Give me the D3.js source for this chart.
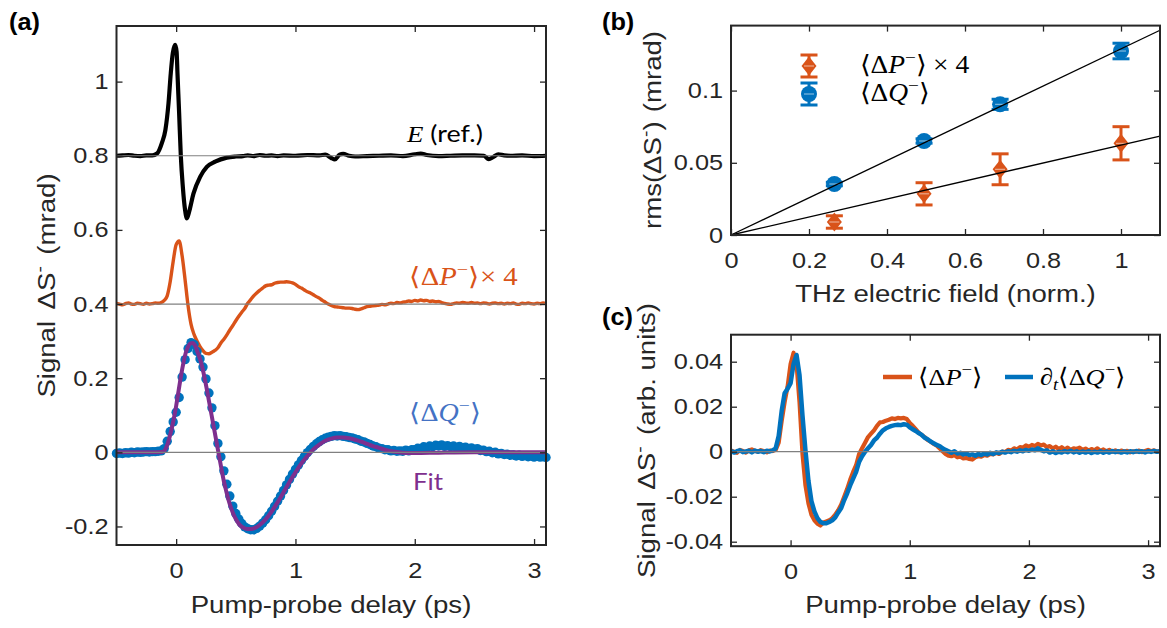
<!DOCTYPE html>
<html><head><meta charset="utf-8">
<script src="https://cdn.jsdelivr.net/npm/d3@7/dist/d3.min.js"></script>
<style>
body{margin:0;background:#fff;}
svg{display:block;}
text{font-family:"Liberation Sans",Arial,sans-serif;fill:#262626;}
</style></head><body>
<svg id="fig" width="1167" height="628"></svg>
<script>
// ---------------- DATA ----------------
// common time grid for the sampled traces (ps)
const tStart = -0.5, tStep = 0.025;
// panel (a): E reference (offset 0.8), [delay, value]
const eRef = [[-0.5,0],[-0.45,0.001],[-0.4,0.002],[-0.35,0],[-0.3,-0.001],[-0.25,0.001],[-0.2,0.001],[-0.16,0.006],[-0.12,0.034],[-0.09,0.07],[-0.064,0.142],[-0.045,0.223],[-0.028,0.277],[-0.008,0.299],[0.004,0.28],[0.011,0.223],[0.025,0.115],[0.039,0.0],[0.056,-0.084],[0.075,-0.147],[0.09,-0.169],[0.109,-0.151],[0.145,-0.102],[0.201,-0.057],[0.257,-0.03],[0.327,-0.016],[0.425,-0.005],[0.5,-0.002],[0.56,-0.001],[0.6,0.001],[0.65,-0.001],[0.7,0.002],[0.75,0.000],[0.8,0.001],[0.85,-0.001],[0.9,0.001],[1.0,0.000],[1.1,0.002],[1.2,0.001],[1.25,0.003],[1.3,-0.006],[1.33,-0.010],[1.37,0.003],[1.4,0.005],[1.45,0.000],[1.5,-0.002],[1.6,-0.001],[1.7,0.000],[1.8,0.001],[1.9,-0.001],[2.0,0.004],[2.05,0.006],[2.1,0.002],[2.2,-0.001],[2.3,0.000],[2.4,0.001],[2.5,0.001],[2.58,0.000],[2.62,-0.009],[2.66,-0.003],[2.7,0.004],[2.75,0.001],[2.8,0.000],[2.9,0.001],[3.0,-0.001],[3.1,0.000]];
const offsets = {E:0.8, P:0.4, Q:0};
// panel (a): <dP-> x 4 (offset 0.4), one value per tStep
const pA = [
 0.002,0.000,-0.002,0.001,0.003,0.000,-0.001,0.002,      // -0.5
 0.001,-0.001,0.002,0.000,0.001,0.003,0.002,0.004,       // -0.3
 0.010,0.022,0.060,0.115,0.160,0.170,0.130,0.065,        // -0.1
 -0.005,-0.055,-0.082,-0.100,-0.115,-0.126,-0.133,-0.134,// 0.1
 -0.130,-0.125,-0.118,-0.105,-0.095,-0.083,-0.070,-0.058,// 0.3
 -0.045,-0.033,-0.022,-0.012,0.002,0.012,0.022,0.030,    // 0.5
 0.037,0.043,0.049,0.051,0.052,0.056,0.058,0.059,        // 0.7
 0.059,0.060,0.059,0.057,0.053,0.047,0.043,0.038,        // 0.9
 0.033,0.030,0.025,0.020,0.016,0.010,0.005,0.000,        // 1.1
 -0.004,-0.007,-0.008,-0.009,-0.010,-0.011,-0.011,-0.012,// 1.3
 -0.014,-0.015,-0.013,-0.010,-0.007,-0.006,-0.005,-0.004,// 1.5
 -0.003,-0.001,-0.002,0.000,0.002,0.001,0.004,0.003,     // 1.7
 0.005,0.006,0.008,0.007,0.010,0.008,0.011,0.009,        // 1.9
 0.010,0.007,0.008,0.006,0.007,0.004,0.002,0.000,        // 2.1
 -0.001,0.001,0.003,0.002,0.004,0.003,0.002,0.004,       // 2.3
 0.002,0.003,0.001,0.003,0.002,0.000,0.002,0.003,        // 2.5
 0.001,0.002,0.000,0.002,0.001,0.003,0.000,-0.001,       // 2.7
 0.002,0.001,0.003,0.001,0.000,0.002,0.001,0.003,        // 2.9
 0.001];                                                 // 3.1
// panel (a): <dQ-> markers, one value per tStep
const qA = [
 -0.003,-0.002,-0.003,-0.001,-0.002,0.000,-0.001,0.001,  // -0.5
 0.000,0.001,0.002,0.001,0.002,0.002,0.003,0.004,        // -0.3
 0.010,0.030,0.056,0.082,0.108,0.148,0.203,0.250,        // -0.1
 0.280,0.296,0.291,0.272,0.252,0.230,0.198,0.160,        // 0.1
 0.120,0.072,0.024,-0.012,-0.050,-0.086,-0.118,-0.145,   // 0.3
 -0.165,-0.180,-0.192,-0.201,-0.206,-0.209,-0.209,-0.205,// 0.5
 -0.199,-0.191,-0.182,-0.171,-0.159,-0.146,-0.132,-0.118,// 0.7
 -0.103,-0.088,-0.073,-0.059,-0.046,-0.034,-0.022,-0.011,// 0.9
 -0.001,0.008,0.016,0.023,0.029,0.034,0.038,0.041,       // 1.1
 0.043,0.045,0.044,0.045,0.043,0.042,0.040,0.039,        // 1.3
 0.036,0.034,0.030,0.028,0.024,0.021,0.017,0.015,        // 1.5
 0.011,0.010,0.007,0.007,0.004,0.005,0.003,0.004,        // 1.7
 0.003,0.006,0.004,0.007,0.007,0.011,0.010,0.015,        // 1.9
 0.013,0.017,0.015,0.019,0.017,0.020,0.016,0.018,        // 2.1
 0.015,0.017,0.013,0.016,0.012,0.014,0.010,0.012,        // 2.3
 0.008,0.010,0.005,0.006,0.002,0.003,-0.001,0.000,       // 2.5
 -0.004,-0.003,-0.006,-0.005,-0.008,-0.007,-0.010,-0.008,// 2.7
 -0.011,-0.009,-0.012,-0.010,-0.013,-0.011,-0.013,-0.012,// 2.9
 -0.014];                                                // 3.1
// panel (a): fit, [delay, value]
const qFit = [[-0.5,0],[-0.2,0],[-0.12,0.001],[-0.1,0.004],[-0.08,0.015],[-0.06,0.035],[-0.04,0.06],[-0.02,0.09],[0,0.125],[0.02,0.165],[0.04,0.205],[0.06,0.24],[0.08,0.268],[0.1,0.285],[0.12,0.294],[0.14,0.295],[0.16,0.287],[0.18,0.27],[0.2,0.252],[0.22,0.228],[0.24,0.198],[0.26,0.165],[0.28,0.13],[0.3,0.095],[0.32,0.06],[0.34,0.025],[0.36,-0.01],[0.38,-0.045],[0.4,-0.078],[0.42,-0.105],[0.44,-0.13],[0.46,-0.15],[0.48,-0.167],[0.5,-0.18],[0.53,-0.195],[0.56,-0.203],[0.6,-0.207],[0.63,-0.207],[0.66,-0.204],[0.7,-0.196],[0.75,-0.181],[0.8,-0.16],[0.85,-0.135],[0.9,-0.108],[0.95,-0.08],[1.0,-0.054],[1.05,-0.03],[1.1,-0.01],[1.15,0.008],[1.2,0.021],[1.25,0.031],[1.3,0.037],[1.35,0.04],[1.4,0.04],[1.45,0.038],[1.5,0.034],[1.55,0.029],[1.6,0.023],[1.65,0.017],[1.7,0.012],[1.75,0.007],[1.8,0.003],[1.85,0.001],[1.9,-0.001],[2.0,-0.002],[2.2,-0.001],[2.5,0],[3.1,0]];
// panel (b)
const field = [0.265, 0.495, 0.69, 1.0];
const rmsQ = [0.0353, 0.0651, 0.0905, 0.1274];
const errQ = [0.0012, 0.0015, 0.0035, 0.0054];
const rmsP = [0.0090, 0.0285, 0.0455, 0.0635];
const errP = [0.0043, 0.0077, 0.0107, 0.0115];
const slopeQ = 0.1289, slopeP = 0.0623;
// panel (c): <dP-> and d_t<dQ->, one value per tStep
const pC = [
 0.0005,0.0000,-0.0005,0.0008,0.0003,-0.0004,0.0006,0.0010,   // -0.5
 0.0004,0.0000,0.0007,0.0002,-0.0003,0.0005,0.0003,0.0008,    // -0.3
 0.0040,0.0135,0.0220,0.0290,0.0390,0.0440,0.0390,0.0220,     // -0.1
 -0.0010,-0.0150,-0.0230,-0.0280,-0.0305,-0.0320,-0.0328,-0.0315, // 0.1
 -0.0310,-0.0305,-0.0295,-0.0280,-0.0260,-0.0235,-0.0200,-0.0165, // 0.3
 -0.0125,-0.0090,-0.0060,-0.0010,0.0015,0.0040,0.0065,0.0080, // 0.5
 0.0095,0.0115,0.0130,0.0132,0.0138,0.0142,0.0148,0.0145,     // 0.7
 0.0150,0.0148,0.0150,0.0145,0.0128,0.0115,0.0100,0.0085,     // 0.9
 0.0075,0.0065,0.0052,0.0045,0.0035,0.0028,0.0015,0.0002,     // 1.1
 -0.0010,-0.0018,-0.0020,-0.0015,-0.0025,-0.0022,-0.0030,-0.0028, // 1.3
 -0.0032,-0.0035,-0.0025,-0.0020,-0.0022,-0.0015,-0.0018,-0.0010, // 1.5
 -0.0012,-0.0005,-0.0010,0.0000,-0.0002,0.0008,0.0005,0.0015, // 1.7
 0.0010,0.0020,0.0018,0.0028,0.0022,0.0030,0.0025,0.0035,     // 1.9
 0.0028,0.0032,0.0020,0.0025,0.0015,0.0022,0.0012,0.0020,     // 2.1
 0.0010,0.0018,0.0008,0.0015,0.0012,0.0018,0.0008,0.0014,     // 2.3
 0.0005,0.0012,0.0006,0.0015,0.0004,0.0010,0.0002,0.0008,     // 2.5
 0.0000,0.0006,-0.0002,0.0005,0.0000,0.0004,-0.0003,0.0002,   // 2.7
 0.0000,0.0005,-0.0002,0.0003,0.0008,0.0002,0.0006,0.0000,    // 2.9
 0.0003];                                                      // 3.1
const qC = [
 0.0003,-0.0004,0.0002,0.0006,-0.0002,0.0001,0.0004,-0.0003,  // -0.5
 0.0005,0.0000,0.0003,-0.0002,0.0004,0.0001,0.0006,0.0015,    // -0.3
 0.0070,0.0180,0.0260,0.0280,0.0305,0.0390,0.0430,0.0340,     // -0.1
 0.0160,0.0005,-0.0130,-0.0220,-0.0265,-0.0295,-0.0312,-0.0318, // 0.1
 -0.0318,-0.0312,-0.0305,-0.0292,-0.0270,-0.0250,-0.0215,-0.0185, // 0.3
 -0.0150,-0.0120,-0.0090,-0.0045,-0.0020,0.0000,0.0015,0.0030, // 0.5
 0.0050,0.0062,0.0080,0.0095,0.0104,0.0110,0.0115,0.0118,     // 0.7
 0.0120,0.0118,0.0122,0.0120,0.0108,0.0100,0.0092,0.0083,     // 0.9
 0.0075,0.0062,0.0055,0.0045,0.0038,0.0030,0.0025,0.0015,     // 1.1
 0.0008,0.0002,-0.0005,0.0002,-0.0008,-0.0005,-0.0012,-0.0008, // 1.3
 -0.0015,-0.0012,-0.0018,-0.0010,-0.0015,-0.0008,-0.0012,-0.0005, // 1.5
 -0.0010,-0.0003,-0.0006,0.0000,-0.0004,0.0002,-0.0002,0.0004, // 1.7
 0.0000,0.0006,0.0002,0.0008,0.0004,0.0010,0.0006,0.0015,     // 1.9
 0.0008,0.0002,0.0006,-0.0004,0.0002,-0.0006,0.0000,-0.0004,  // 2.1
 0.0003,-0.0002,0.0004,-0.0003,0.0002,-0.0005,0.0001,-0.0004, // 2.3
 0.0002,-0.0006,0.0000,-0.0004,0.0002,-0.0005,0.0001,-0.0004, // 2.5
 0.0003,-0.0002,0.0002,-0.0004,0.0001,-0.0003,0.0002,-0.0002, // 2.7
 0.0003,-0.0001,0.0002,-0.0003,0.0002,-0.0001,0.0003,0.0000,  // 2.9
 0.0002];                                                      // 3.1
// ticks
const delayTicks = [0,1,2,3];
const aYTicks = [-0.2,0,0.2,0.4,0.6,0.8,1];
const bXTicks = [0,0.2,0.4,0.6,0.8,1];
const bYTicks = [0,0.05,0.1];
const cYTicks = [-0.04,-0.02,0,0.02,0.04];

// ---------------- STYLE ----------------
const C = {orange:'#D95319', blue:'#0072BD', purple:'#7E2F8E', qlab:'#4472C4', ink:'#262626', grid:'#808080'};
const SX = 1.15;
const svg = d3.select('#fig');
const toPts = arr => arr.map((v,i)=>[tStart + i*tStep, v]);

function stretch(sel){
  sel.each(function(){
    const t=d3.select(this); const x=+t.attr('x')||0, y=+t.attr('y')||0;
    t.attr('transform',`translate(${x},${y}) scale(${SX},1) translate(${-x},${-y})`);
  });
}
function label(parent, x, y, parts, o){
  const fs=o.size;
  const t=parent.append('text')
    .attr('transform',`translate(${x},${y})${o.rot?' rotate(-90)':''} scale(${o.sx||SX},1)`)
    .attr('text-anchor',o.anchor||'start')
    .style('font-size',fs+'px').style('fill',o.color||C.ink);
  if(o.font) t.style('font-family',o.font);
  if(o.bold) t.style('font-weight','bold');
  let shift=0;
  parts.forEach(p=>{
    const sp=t.append('tspan').text(p.s);
    const target = p.sup ? -0.4*fs : p.sub ? 0.22*fs : 0;
    sp.attr('dy', target-shift); shift=target;
    if(p.sup||p.sub) sp.style('font-size',(0.7*fs)+'px');
    if(p.i) sp.style('font-style','italic');
    if(p.f) sp.style('font-family',p.f);
    if(p.dx) sp.attr('dx',p.dx);
  });
  return t;
}
function axes(g, x, y, xt, yt, xf, yf){
  const [y0,y1]=y.range(), [x0,x1]=x.range();
  const st = s=>{
    s.attr('font-size',null).attr('font-family',null);
    s.select('.domain').remove();
    s.selectAll('line').attr('stroke',C.ink).attr('stroke-width',1.3);
    s.selectAll('text').style('font-size','22px').style('fill',C.ink);
  };
  g.append('g').attr('transform',`translate(0,${y0})`)
    .call(d3.axisBottom(x).tickValues(xt).tickFormat(xf).tickSizeInner(-6).tickSizeOuter(0).tickPadding(17))
    .call(st).selectAll('text').call(stretch);
  g.append('g').attr('transform',`translate(0,${y1})`)
    .call(d3.axisTop(x).tickValues(xt).tickFormat(()=>'').tickSizeInner(-6).tickSizeOuter(0)).call(st);
  g.append('g').attr('transform',`translate(${x0},0)`)
    .call(d3.axisLeft(y).tickValues(yt).tickFormat(yf).tickSizeInner(-6).tickSizeOuter(0).tickPadding(8))
    .call(st).selectAll('text').call(stretch);
  g.append('g').attr('transform',`translate(${x1},0)`)
    .call(d3.axisRight(y).tickValues(yt).tickFormat(()=>'').tickSizeInner(-6).tickSizeOuter(0)).call(st);
  g.append('rect').attr('x',x0).attr('y',y1).attr('width',x1-x0).attr('height',y0-y1)
    .attr('fill','none').attr('stroke',C.ink).attr('stroke-width',2);
}

// ---------------- PANEL (a) ----------------
const xa = d3.scaleLinear([-0.5,3.1],[116.5,546]);
const ya = d3.scaleLinear([-0.25,1.15],[545,26]);
const ga = svg.append('g');
const lineA = off => d3.line().x(d=>xa(d[0])).y(d=>ya(d[1]+off)).curve(d3.curveMonotoneX);
ga.append('path').datum(eRef).attr('d',lineA(offsets.E)).attr('fill','none').attr('stroke','#000').attr('stroke-width',4.2).attr('stroke-linejoin','round');
ga.append('path').datum(toPts(pA)).attr('d',lineA(offsets.P)).attr('fill','none').attr('stroke',C.orange).attr('stroke-width',3.4).attr('stroke-linejoin','round');
ga.append('g').selectAll('circle').data(toPts(qA)).join('circle')
  .attr('cx',d=>xa(d[0])).attr('cy',d=>ya(d[1]+offsets.Q)).attr('r',4.7).attr('fill',C.blue);
ga.append('path').datum(qFit).attr('d',lineA(offsets.Q)).attr('fill','none').attr('stroke',C.purple).attr('stroke-width',4).attr('stroke-linejoin','round');
[offsets.E,offsets.P,offsets.Q].forEach(o=>{
  ga.append('line').attr('x1',xa(-0.5)).attr('x2',xa(3.1)).attr('y1',ya(o)).attr('y2',ya(o))
    .attr('stroke',C.grid).attr('stroke-width',1.2);
});
axes(ga, xa, ya, delayTicks, aYTicks, d3.format('d'), d=>String(d));
label(ga, 407, 142, [{s:'E',i:true,f:'Liberation Serif'},{s:' (ref.)'}], {size:24, font:'Lato', sx:1.12, color:'#000'});
label(ga, 409, 285, [{s:'⟨Δ'},{s:'P',i:true},{s:'−',sup:true},{s:'⟩× 4'}], {size:25, font:'Liberation Serif', sx:1.15, color:C.orange});
label(ga, 409, 421, [{s:'⟨Δ'},{s:'Q',i:true},{s:'−',sup:true},{s:'⟩'}], {size:25, font:'Liberation Serif', sx:1.12, color:C.qlab});
label(ga, 413, 490, [{s:'Fit'}], {size:24, font:'Lato', sx:1.08, color:C.purple});
label(ga, 55, 285.5, [{s:'Signal'},{s:'ΔS',dx:10},{s:'-',sup:true},{s:'(mrad)',dx:10}], {size:24, rot:true, anchor:'middle'});
label(ga, 331, 613, [{s:'Pump-probe delay (ps)'}], {size:24, anchor:'middle'});
label(ga, 9, 30, [{s:'(a)'}], {size:23, bold:true, sx:1.1, color:'#000'});

// ---------------- PANEL (b) ----------------
const xb = d3.scaleLinear([0,1.1],[731,1160]);
const yb = d3.scaleLinear([0,0.145],[235,25.6]);
const gb = svg.append('g');
function errbar(g, x, y, e, col){
  g.append('line').attr('x1',x).attr('x2',x).attr('y1',y-e).attr('y2',y+e).attr('stroke',col).attr('stroke-width',3);
  [y-e,y+e].forEach(yy=>g.append('line').attr('x1',x-8.5).attr('x2',x+8.5).attr('y1',yy).attr('y2',yy).attr('stroke',col).attr('stroke-width',3));
}
function diamond(g, x, y, col){
  g.append('path').attr('d',`M${x},${y-9.5}L${x+7.5},${y}L${x},${y+9.5}L${x-7.5},${y}Z`).attr('fill',col);
  g.append('line').attr('x1',x-5).attr('x2',x+5).attr('y1',y).attr('y2',y).attr('stroke','#fff').attr('stroke-opacity',0.6).attr('stroke-width',1);
}
function circ(g, x, y, col){
  g.append('circle').attr('cx',x).attr('cy',y).attr('r',8).attr('fill',col);
  g.append('line').attr('x1',x-5).attr('x2',x+5).attr('y1',y).attr('y2',y).attr('stroke','#fff').attr('stroke-opacity',0.6).attr('stroke-width',1);
}
field.forEach((f,i)=>{
  errbar(gb, xb(f), yb(rmsP[i]), yb(0)-yb(errP[i]), C.orange);
  diamond(gb, xb(f), yb(rmsP[i]), C.orange);
  errbar(gb, xb(f), yb(rmsQ[i]), yb(0)-yb(errQ[i]), C.blue);
  circ(gb, xb(f), yb(rmsQ[i]), C.blue);
});
[slopeQ, slopeP].forEach(s=>{
  gb.append('line').attr('x1',xb(0)).attr('y1',yb(0)).attr('x2',xb(1.1)).attr('y2',yb(s*1.1))
    .attr('stroke','#000').attr('stroke-width',1.3);
});
axes(gb, xb, yb, bXTicks, bYTicks, d=>String(d), d=>String(d));
// legend
errbar(gb, 809, 66, 11, C.orange); diamond(gb, 809, 66, C.orange);
errbar(gb, 809, 94, 11, C.blue); circ(gb, 809, 94, C.blue);
label(gb, 860, 73, [{s:'⟨Δ'},{s:'P',i:true},{s:'−',sup:true},{s:'⟩ × 4'}], {size:25, font:'Liberation Serif', sx:1.1, color:'#000'});
label(gb, 860, 101, [{s:'⟨Δ'},{s:'Q',i:true},{s:'−',sup:true},{s:'⟩'}], {size:25, font:'Liberation Serif', sx:1.1, color:'#000'});
label(gb, 661, 130, [{s:'rms(ΔS'},{s:'-',sup:true},{s:')'},{s:'(mrad)',dx:8}], {size:24, rot:true, anchor:'middle'});
label(gb, 945.5, 302, [{s:'THz electric field (norm.)'}], {size:24, anchor:'middle'});
label(gb, 602, 30, [{s:'(b)'}], {size:23, bold:true, sx:1.1, color:'#000'});

// ---------------- PANEL (c) ----------------
const xc = d3.scaleLinear([-0.5,3.1],[731,1160]);
const yc = d3.scaleLinear([-0.042,0.052],[546.2,334.7]);
const gc = svg.append('g');
const lineC = d3.line().x(d=>xc(d[0])).y(d=>yc(d[1]));
gc.append('path').datum(toPts(pC)).attr('d',lineC).attr('fill','none').attr('stroke',C.orange).attr('stroke-width',4.2).attr('stroke-linejoin','round');
gc.append('path').datum(toPts(qC)).attr('d',lineC).attr('fill','none').attr('stroke',C.blue).attr('stroke-width',4.5).attr('stroke-linejoin','round');
gc.append('line').attr('x1',xc(-0.5)).attr('x2',xc(3.1)).attr('y1',yc(0)).attr('y2',yc(0)).attr('stroke',C.grid).attr('stroke-width',1.2);
axes(gc, xc, yc, delayTicks, cYTicks, d3.format('d'), d=>String(d));
gc.append('line').attr('x1',883).attr('x2',912).attr('y1',377).attr('y2',377).attr('stroke',C.orange).attr('stroke-width',4.5);
gc.append('line').attr('x1',1005).attr('x2',1033).attr('y1',377).attr('y2',377).attr('stroke',C.blue).attr('stroke-width',4.5);
label(gc, 918, 385, [{s:'⟨Δ'},{s:'P',i:true},{s:'−',sup:true},{s:'⟩'}], {size:24, font:'Liberation Serif', sx:1.1, color:'#000'});
label(gc, 1040, 385, [{s:'∂'},{s:'t',i:true,sub:true},{s:'⟨Δ'},{s:'Q',i:true},{s:'−',sup:true},{s:'⟩'}], {size:24, font:'Liberation Serif', sx:1.1, color:'#000'});
label(gc, 655, 440.5, [{s:'Signal'},{s:'ΔS',dx:10},{s:'-',sup:true},{s:'(arb. units)',dx:10}], {size:24, rot:true, anchor:'middle'});
label(gc, 945.5, 613, [{s:'Pump-probe delay (ps)'}], {size:24, anchor:'middle'});
label(gc, 602, 325, [{s:'(c)'}], {size:23, bold:true, sx:1.1, color:'#000'});
</script>
</body></html>
